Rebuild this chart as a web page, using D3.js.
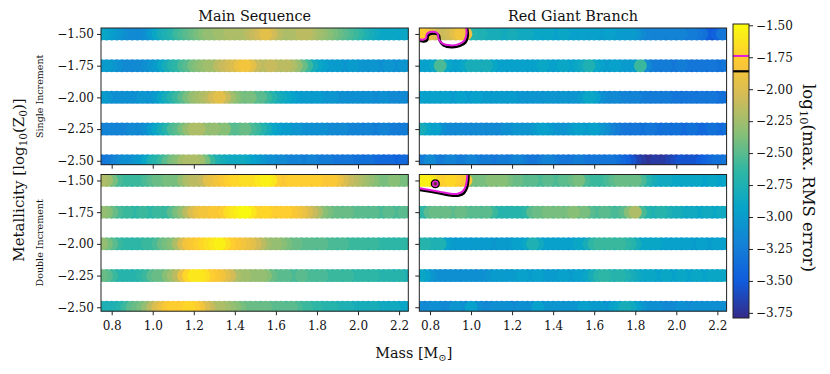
<!DOCTYPE html>
<html>
<head>
<meta charset="utf-8">
<script src="https://cdn.jsdelivr.net/npm/d3@7"></script>
<style>
  body { margin: 0; background: #fff; }
  text { font-family: "DejaVu Serif", serif; fill: #111; }
</style>
</head>
<body>
<svg id="chart" width="830" height="374"></svg>
<script>
// ---- data ----
var metals = [-1.5, -1.75, -2.0, -2.25, -2.5];
var massTicks = [0.8, 1.0, 1.2, 1.4, 1.6, 1.8, 2.0, 2.2];
var cbTicks = [-1.5, -1.75, -2.0, -2.25, -2.5, -2.75, -3.0, -3.25, -3.5, -3.75];
// mass grid 0.75 .. 2.25, step 0.025 (61 models per metallicity)
var masses = d3.range(61).map(i => 0.75 + 0.025 * i);

// log10(max RMS error), one row per metallicity (-1.5 .. -2.5)
var msSingle = [
  [-2.9,-2.95,-3.0,-3.05,-3.1,-3.15,-3.15,-3.15,-3.15,-3.1, -3.0,-2.9,-2.8,-2.75,-2.7,-2.6,-2.55,-2.5,-2.45,-2.4, -2.35,-2.3,-2.3,-2.25,-2.25,-2.2,-2.25,-2.2,-2.2,-2.15, -2.1,-2.05,-1.95,-2.05,-2.15,-2.2,-2.25,-2.2,-2.2,-2.15, -2.15,-2.2,-2.25,-2.3,-2.35,-2.4,-2.45,-2.5,-2.55,-2.6, -2.65,-2.75,-2.8,-2.85,-2.9,-2.9,-2.9,-2.9,-2.95,-2.9, -2.9],
  [-3.0,-3.0,-3.05,-3.1,-3.15,-3.15,-3.2,-3.15,-3.15,-3.1, -3.05,-3.0,-2.9,-2.8,-2.7,-2.65,-2.55,-2.5,-2.4,-2.35, -2.3,-2.25,-2.25,-2.15,-2.1,-2.05,-2.0,-1.9,-1.85,-1.95, -2.1,-2.15,-2.15,-2.1,-2.15,-2.2,-2.15,-2.2,-2.3,-2.45, -2.6,-2.8,-2.9,-2.95,-3.0,-3.0,-3.0,-3.05,-3.05,-3.0, -3.05,-3.05,-3.1,-3.05,-3.1,-3.1,-3.05,-3.1,-3.1,-3.05, -3.05],
  [-3.0,-3.05,-3.1,-3.1,-3.15,-3.1,-3.1,-3.1,-3.05,-3.1, -3.05,-3.0,-2.9,-2.8,-2.7,-2.6,-2.5,-2.4,-2.3,-2.25, -2.2,-2.15,-2.05,-1.95,-2.1,-2.25,-2.35,-2.4,-2.45,-2.4, -2.5,-2.5,-2.6,-2.7,-2.8,-2.85,-2.9,-2.95,-3.0,-3.0, -3.0,-3.05,-3.0,-3.05,-3.1,-3.05,-3.1,-3.1,-3.15,-3.1, -3.1,-3.15,-3.1,-3.15,-3.15,-3.1,-3.15,-3.15,-3.2,-3.15, -3.15],
  [-3.2,-3.2,-3.2,-3.25,-3.2,-3.2,-3.15,-3.2,-3.15,-3.1, -3.0,-2.9,-2.8,-2.7,-2.55,-2.5,-2.4,-2.3,-2.2,-2.2, -2.3,-2.35,-2.3,-2.4,-2.35,-2.5,-2.55,-2.5,-2.45,-2.55, -2.6,-2.7,-2.8,-2.9,-2.95,-3.0,-3.0,-3.05,-3.05,-3.1, -3.1,-3.1,-3.15,-3.1,-3.15,-3.15,-3.2,-3.15,-3.2,-3.2, -3.2,-3.25,-3.2,-3.25,-3.25,-3.2,-3.25,-3.25,-3.3,-3.25, -3.25],
  [-3.3,-3.3,-3.25,-3.2,-3.15,-3.1,-3.1,-3.05,-3.0,-2.9, -2.75,-2.7,-2.6,-2.5,-2.4,-2.35,-2.25,-2.2,-2.2,-2.25, -2.4,-2.6,-2.75,-2.8,-2.85,-2.85,-2.9,-2.85,-2.9,-2.95, -3.0,-3.05,-3.1,-3.1,-3.15,-3.15,-3.2,-3.2,-3.2,-3.25, -3.25,-3.2,-3.25,-3.3,-3.25,-3.3,-3.3,-3.35,-3.3,-3.35, -3.35,-3.4,-3.35,-3.4,-3.4,-3.45,-3.4,-3.45,-3.45,-3.4, -3.45]
];

var msDouble = [
  [-2.2,-2.25,-2.4,-2.55,-2.6,-2.6,-2.65,-2.6,-2.6,-2.55, -2.5,-2.45,-2.45,-2.4,-2.45,-2.4,-2.3,-2.2,-2.15,-2.2, -2.1,-1.95,-1.9,-1.85,-1.8,-1.75,-1.7,-1.7,-1.65,-1.7, -1.65,-1.6,-1.55,-1.6,-1.75,-1.8,-1.8,-1.75,-1.75,-1.8, -1.75,-1.8,-1.75,-1.8,-1.85,-1.8,-1.9,-2.0,-2.1,-2.15, -2.2,-2.25,-2.3,-2.35,-2.4,-2.4,-2.4,-2.35,-2.4,-2.4, -2.4],
  [-2.3,-2.35,-2.45,-2.55,-2.6,-2.6,-2.65,-2.65,-2.6,-2.65, -2.65,-2.6,-2.65,-2.6,-2.5,-2.4,-2.3,-2.15,-2.0,-1.9, -1.85,-1.85,-1.8,-1.85,-1.75,-1.65,-1.6,-1.55,-1.5,-1.6, -1.7,-1.75,-1.7,-1.75,-1.8,-1.75,-1.75,-1.8,-1.85,-1.9, -2.0,-2.1,-2.2,-2.35,-2.4,-2.45,-2.45,-2.5,-2.45,-2.5, -2.5,-2.5,-2.55,-2.5,-2.55,-2.55,-2.5,-2.55,-2.55,-2.5, -2.55],
  [-2.3,-2.4,-2.5,-2.6,-2.65,-2.65,-2.7,-2.65,-2.65,-2.6, -2.6,-2.55,-2.45,-2.4,-2.35,-2.2,-2.0,-1.85,-1.8,-1.75, -1.7,-1.65,-1.6,-1.55,-1.65,-1.75,-1.8,-1.85,-1.9,-1.95, -2.05,-2.15,-2.25,-2.3,-2.3,-2.35,-2.4,-2.45,-2.45,-2.5, -2.5,-2.5,-2.55,-2.5,-2.55,-2.55,-2.6,-2.55,-2.6,-2.6, -2.6,-2.6,-2.65,-2.6,-2.65,-2.65,-2.65,-2.7,-2.65,-2.65, -2.65],
  [-2.45,-2.5,-2.6,-2.7,-2.7,-2.7,-2.75,-2.7,-2.65,-2.6, -2.5,-2.45,-2.45,-2.35,-2.25,-2.15,-1.9,-1.7,-1.6,-1.6, -1.65,-1.75,-1.8,-1.85,-1.95,-2.05,-2.2,-2.25,-2.25,-2.3, -2.3,-2.3,-2.35,-2.45,-2.5,-2.5,-2.5,-2.55,-2.55,-2.5, -2.55,-2.55,-2.6,-2.55,-2.6,-2.6,-2.6,-2.65,-2.6,-2.65, -2.65,-2.65,-2.7,-2.65,-2.7,-2.7,-2.7,-2.75,-2.7,-2.75, -2.75],
  [-2.75,-2.8,-2.75,-2.75,-2.7,-2.6,-2.5,-2.45,-2.4,-2.3, -2.15,-2.0,-1.9,-1.8,-1.75,-1.8,-1.75,-1.7,-1.75,-1.85, -2.0,-2.1,-2.2,-2.2,-2.25,-2.3,-2.35,-2.4,-2.45,-2.45, -2.45,-2.5,-2.45,-2.5,-2.5,-2.5,-2.55,-2.5,-2.55,-2.6, -2.6,-2.65,-2.65,-2.7,-2.7,-2.7,-2.75,-2.75,-2.75,-2.8, -2.8,-2.8,-2.85,-2.8,-2.85,-2.85,-2.9,-2.85,-2.9,-2.9, -2.9]
];

var rgbSingle = [
  [-1.75,-1.8,-1.95,-2.05,-2.1,-2.1,-2.05,-1.95,-1.85,-1.9, -2.7,-2.75,-2.75,-2.8,-2.8,-2.8,-2.85,-2.85,-2.8,-2.85, -2.85,-2.85,-2.9,-2.9,-2.95,-2.9,-2.95,-2.95,-2.9,-2.95, -2.95,-3.0,-2.95,-3.0,-2.95,-3.0,-3.0,-2.95,-3.0,-3.0, -3.05,-3.0,-3.05,-3.15,-3.2,-3.2,-3.25,-3.2,-3.25,-3.2, -3.25,-3.2,-3.3,-3.25,-3.3,-3.35,-3.5,-3.55,-3.45,-3.3, -3.3],
  [-2.95,-2.95,-2.95,-2.9,-2.55,-2.9,-2.95,-3.0,-2.95,-2.9, -2.8,-2.8,-2.85,-2.8,-2.9,-2.95,-2.95,-3.0,-2.95,-2.95, -2.95,-3.0,-2.95,-2.95,-2.9,-2.95,-3.0,-2.95,-2.9,-2.95, -2.95,-2.9,-2.85,-2.75,-2.9,-2.95,-3.0,-3.0,-2.95,-3.0, -3.0,-3.05,-3.0,-2.6,-3.15,-3.25,-3.25,-3.3,-3.25,-3.3, -3.3,-3.25,-3.3,-3.35,-3.3,-3.3,-3.35,-3.3,-3.35,-3.35, -3.3],
  [-2.95,-2.95,-3.0,-2.95,-3.0,-2.95,-3.0,-3.0,-2.95,-3.0, -3.0,-2.95,-3.0,-3.0,-3.05,-3.0,-3.0,-3.05,-3.0,-3.05, -3.05,-3.1,-3.05,-3.05,-3.1,-3.05,-3.05,-3.1,-3.05,-3.1, -3.05,-3.1,-3.0,-2.9,-2.95,-3.1,-3.15,-3.2,-3.15,-3.2, -3.2,-3.25,-3.2,-3.25,-3.25,-3.3,-3.25,-3.3,-3.25,-3.3, -3.3,-3.35,-3.3,-3.3,-3.35,-3.3,-3.35,-3.3,-3.4,-3.35, -3.35],
  [-2.8,-2.9,-2.95,-2.95,-3.1,-3.15,-3.15,-3.2,-3.15,-3.15, -3.2,-3.15,-3.15,-3.2,-3.15,-3.2,-3.15,-3.1,-3.1,-3.05, -3.1,-3.05,-3.05,-3.0,-2.95,-3.0,-3.05,-3.05,-3.1,-3.05, -3.0,-2.95,-3.05,-3.0,-2.95,-3.05,-3.1,-3.2,-3.25,-3.3, -3.3,-3.35,-3.3,-3.35,-3.35,-3.3,-3.35,-3.4,-3.35,-3.4, -3.35,-3.4,-3.4,-3.35,-3.4,-3.4,-3.4,-3.35,-3.4,-3.4, -3.35],
  [-3.3,-3.25,-3.15,-3.25,-3.3,-3.25,-3.2,-3.25,-3.3,-3.25, -3.2,-3.25,-3.3,-3.25,-3.3,-3.3,-3.25,-3.3,-3.25,-3.2, -3.25,-3.3,-3.3,-3.35,-3.25,-3.2,-3.25,-3.3,-3.3,-3.35, -3.3,-3.25,-3.3,-3.35,-3.3,-3.3,-3.35,-3.3,-3.35,-3.4, -3.45,-3.55,-3.65,-3.7,-3.75,-3.75,-3.7,-3.75,-3.7,-3.65, -3.6,-3.55,-3.6,-3.55,-3.6,-3.5,-3.45,-3.4,-3.35,-3.35, -3.3]
];

var rgbDouble = [
  [-1.55,-1.55,-1.6,-1.7,-1.75,-1.75,-1.7,-1.75,-1.8,-1.8, -2.4,-2.45,-2.4,-2.45,-2.35,-2.4,-2.35,-2.4,-2.45,-2.45, -2.5,-2.55,-2.5,-2.55,-2.55,-2.5,-2.55,-2.55,-2.5,-2.55, -2.45,-2.4,-2.55,-2.6,-2.6,-2.65,-2.6,-2.55,-2.5,-2.45, -2.45,-2.5,-2.45,-2.55,-2.7,-2.8,-2.85,-2.9,-2.85,-2.9, -2.9,-2.95,-2.9,-2.95,-2.9,-2.95,-2.95,-2.9,-2.95,-2.95, -2.9],
  [-2.7,-2.65,-2.5,-2.45,-2.5,-2.45,-2.5,-2.5,-2.45,-2.5, -2.55,-2.5,-2.55,-2.5,-2.6,-2.7,-2.7,-2.75,-2.7,-2.7, -2.7,-2.65,-2.5,-2.45,-2.45,-2.4,-2.45,-2.4,-2.45,-2.4, -2.35,-2.45,-2.4,-2.5,-2.55,-2.55,-2.5,-2.55,-2.6,-2.55, -2.5,-2.35,-2.2,-2.55,-2.7,-2.75,-2.75,-2.7,-2.75,-2.8, -2.8,-2.85,-2.9,-2.85,-2.9,-2.9,-2.85,-2.9,-2.9,-2.85, -2.9],
  [-2.75,-2.7,-2.75,-2.8,-2.75,-2.95,-3.0,-3.05,-3.0,-3.0, -3.05,-3.0,-3.05,-3.0,-3.05,-3.05,-3.0,-3.05,-3.0,-2.95, -3.0,-2.9,-2.75,-2.85,-2.95,-2.95,-3.0,-2.95,-2.95,-3.0, -2.95,-2.9,-2.95,-2.8,-2.65,-2.6,-2.65,-2.6,-2.65,-2.6, -2.65,-2.7,-2.8,-2.9,-2.9,-2.95,-2.9,-2.95,-2.95,-3.0, -2.95,-3.0,-2.95,-3.0,-3.0,-2.95,-3.0,-3.0,-2.95,-3.0, -2.95],
  [-2.9,-2.95,-3.05,-3.1,-3.1,-3.15,-3.1,-3.1,-3.15,-3.1, -3.1,-3.15,-3.1,-3.1,-3.05,-3.0,-3.0,-3.05,-3.0,-3.0, -2.95,-3.0,-3.0,-2.95,-3.0,-3.05,-3.0,-3.0,-2.95,-3.0, -3.0,-2.95,-3.0,-2.9,-2.8,-2.7,-2.65,-2.7,-2.75,-2.7, -2.75,-2.8,-2.85,-2.9,-2.95,-2.9,-2.95,-2.95,-2.9,-2.95, -2.95,-2.9,-2.95,-2.95,-2.9,-2.95,-2.95,-2.9,-2.95,-2.9, -2.9],
  [-3.15,-3.2,-3.15,-3.1,-3.15,-3.2,-3.15,-3.05,-3.1,-3.15, -2.95,-3.1,-3.15,-3.2,-3.15,-3.1,-3.15,-3.1,-3.2,-3.15, -3.1,-3.15,-3.1,-2.95,-3.1,-3.05,-3.1,-3.05,-3.1,-3.05, -3.1,-3.05,-2.95,-3.0,-3.05,-3.0,-3.1,-3.05,-2.95,-2.9, -2.8,-2.85,-2.95,-3.05,-3.1,-3.15,-3.1,-3.15,-3.2,-3.15, -3.15,-3.1,-3.15,-3.15,-3.1,-3.15,-3.1,-3.1,-3.15,-3.1, -3.1]
];

// contour of the error threshold (mass, log10 Z0) in the RGB panels
var levelMagenta = -1.74;
var levelBlack = -1.86;
var contourRgbSingle = [[0.745,-1.54],[0.765,-1.545],[0.78,-1.535],[0.785,-1.50],[0.80,-1.485],[0.825,-1.485],[0.838,-1.50],[0.842,-1.54],[0.86,-1.575],[0.90,-1.59],[0.94,-1.58],[0.968,-1.55],[0.978,-1.50],[0.975,-1.44]];
var contourRgbDouble = [[0.745,-1.56],[0.80,-1.575],[0.85,-1.59],[0.90,-1.605],[0.935,-1.605],[0.96,-1.585],[0.975,-1.54],[0.98,-1.49],[0.982,-1.44]];
var ringRgbDouble = [0.826, -1.526];

// ---- setup ----
var svg = d3.select('#chart');
var cMin = -3.79, cMax = -1.49;
var parula = ['#352a87','#0f5cdd','#1481d6','#06a4ca','#2eb7a4','#87bf77','#d1bb59','#fec832','#f9fb0e'];
var color = d3.scaleLinear()
  .domain(parula.map((c, i) => cMin + i * (cMax - cMin) / (parula.length - 1)))
  .range(parula)
  .interpolate(d3.interpolateRgb);

var cols = [101, 419.3], colW = 307.3;
var rows = [28, 174.5], rowH = 136.7;
var xDomain = [0.748, 2.245], yDomain = [-1.453, -2.531];
var fmt1 = d3.format('.1f'), fmt2 = d3.format('.2f');

var panels = [
  {data: msSingle, c: 0, r: 0},
  {data: rgbSingle, c: 1, r: 0, contour: contourRgbSingle},
  {data: msDouble, c: 0, r: 1},
  {data: rgbDouble, c: 1, r: 1, contour: contourRgbDouble, ring: ringRgbDouble}
];

panels.forEach(function(p, k) {
  var x0 = cols[p.c], y0 = rows[p.r];
  var x = d3.scaleLinear().domain(xDomain).range([x0, x0 + colW]);
  var y = d3.scaleLinear().domain(yDomain).range([y0, y0 + rowH]);

  svg.append('clipPath').attr('id', 'clip' + k)
    .append('rect').attr('x', x0).attr('y', y0).attr('width', colW).attr('height', rowH);

  var pts = [];
  p.data.forEach(function(row, b) {
    row.forEach(function(v, j) { pts.push({m: masses[j], z: metals[b], v: v}); });
  });
  pts.sort((a, b) => a.v - b.v);

  var g = svg.append('g').attr('clip-path', 'url(#clip' + k + ')');
  g.selectAll('circle').data(pts).enter().append('circle')
    .attr('cx', d => x(d.m))
    .attr('cy', d => y(d.z))
    .attr('r', 6.5)
    .style('fill', d => color(d.v));

  var line = d3.line().x(d => x(d[0])).y(d => y(d[1])).curve(d3.curveCatmullRom);
  if (p.contour) {
    g.append('path').attr('d', line(p.contour))
      .attr('transform', 'translate(1.2,1.8)')
      .style('fill', 'none').style('stroke', '#000').style('stroke-width', 2.6);
    g.append('path').attr('d', line(p.contour))
      .style('fill', 'none').style('stroke', '#e01ad8').style('stroke-width', 2);
  }
  if (p.ring) {
    g.append('circle').attr('cx', x(p.ring[0])).attr('cy', y(p.ring[1])).attr('r', 3.8)
      .style('fill', 'none').style('stroke', '#000').style('stroke-width', 1.6);
    g.append('circle').attr('cx', x(p.ring[0])).attr('cy', y(p.ring[1])).attr('r', 2.4)
      .style('fill', '#5a3a2a').style('stroke', '#e01ad8').style('stroke-width', 1.5);
  }

  // axes
  var xAxis = d3.axisBottom(x).tickValues(massTicks).tickSize(4).tickPadding(6.5).tickSizeOuter(0)
    .tickFormat(p.r === 1 ? fmt1 : '');
  var yAxis = d3.axisLeft(y).tickValues(metals).tickSize(4).tickPadding(3).tickSizeOuter(0)
    .tickFormat(p.c === 0 ? fmt2 : '');
  var ax = svg.append('g').attr('transform', 'translate(0,' + (y0 + rowH) + ')').call(xAxis);
  var ay = svg.append('g').attr('transform', 'translate(' + x0 + ',0)').call(yAxis);
  [ax, ay].forEach(function(a) {
    a.select('.domain').remove();
    a.selectAll('line').style('stroke', '#222');
    a.selectAll('text').style('font-size', '12px').style('font-family', '"DejaVu Serif", serif').style('fill', '#111');
  });

  svg.append('rect').attr('x', x0).attr('y', y0).attr('width', colW).attr('height', rowH)
    .style('fill', 'none').style('stroke', '#222').style('stroke-width', 1);
});

// titles
svg.append('text').attr('x', cols[0] + colW / 2).attr('y', 21).attr('text-anchor', 'middle')
  .style('font-size', '14.4px').text('Main Sequence');
svg.append('text').attr('x', cols[1] + colW / 2).attr('y', 21).attr('text-anchor', 'middle')
  .style('font-size', '14.4px').text('Red Giant Branch');

// row labels
svg.append('text').attr('transform', 'translate(43,' + (rows[0] + rowH / 2) + ') rotate(-90)')
  .attr('text-anchor', 'middle').style('font-size', '9.5px').text('Single Increment');
svg.append('text').attr('transform', 'translate(43,' + (rows[1] + rowH / 2) + ') rotate(-90)')
  .attr('text-anchor', 'middle').style('font-size', '9.5px').text('Double Increment');

// x label
var xl = svg.append('text').attr('x', (cols[0] + cols[1] + colW) / 2).attr('y', 357.5)
  .attr('text-anchor', 'middle').style('font-size', '14.4px');
xl.append('tspan').text('Mass [M');
xl.append('tspan').attr('dy', 3).style('font-size', '10px').text('\u2299');
xl.append('tspan').attr('dy', -3).text(']');

// y label
var yl = svg.append('text').attr('transform', 'translate(24,180) rotate(-90)')
  .attr('text-anchor', 'middle').style('font-size', '15px');
yl.append('tspan').text('Metallicity [log');
yl.append('tspan').attr('dy', 3).style('font-size', '10.5px').text('10');
yl.append('tspan').attr('dy', -3).text('(Z');
yl.append('tspan').attr('dy', 3).style('font-size', '10.5px').text('0');
yl.append('tspan').attr('dy', -3).text(')]');

// ---- colorbar ----
var cbX = 733, cbW = 16, cbTop = 24, cbBot = 318;
var cb = d3.scaleLinear().domain([cMax, cMin]).range([cbTop, cbBot]);
var grad = svg.append('defs').append('linearGradient').attr('id', 'cbgrad')
  .attr('x1', 0).attr('y1', 1).attr('x2', 0).attr('y2', 0);
d3.range(0, 1.0001, 0.02).forEach(function(t) {
  grad.append('stop').attr('offset', t).attr('stop-color', color(cMin + t * (cMax - cMin)));
});
svg.append('rect').attr('x', cbX).attr('y', cbTop).attr('width', cbW).attr('height', cbBot - cbTop)
  .style('fill', 'url(#cbgrad)');
svg.append('line').attr('x1', cbX).attr('x2', cbX + cbW).attr('y1', cb(levelMagenta)).attr('y2', cb(levelMagenta))
  .style('stroke', '#e01ad8').style('stroke-width', 2);
svg.append('line').attr('x1', cbX).attr('x2', cbX + cbW).attr('y1', cb(levelBlack)).attr('y2', cb(levelBlack))
  .style('stroke', '#000').style('stroke-width', 2.2);
svg.append('rect').attr('x', cbX).attr('y', cbTop).attr('width', cbW).attr('height', cbBot - cbTop)
  .style('fill', 'none').style('stroke', '#222').style('stroke-width', 1);

var cbAxis = d3.axisRight(cb).tickValues(cbTicks).tickSize(4).tickPadding(3).tickSizeOuter(0).tickFormat(fmt2);
var cba = svg.append('g').attr('transform', 'translate(' + (cbX + cbW) + ',0)').call(cbAxis);
cba.select('.domain').remove();
cba.selectAll('line').style('stroke', '#222');
cba.selectAll('text').style('font-size', '12px').style('font-family', '"DejaVu Serif", serif').style('fill', '#111');

var cl = svg.append('text').attr('transform', 'translate(803,178) rotate(90)')
  .attr('text-anchor', 'middle').style('font-size', '16.5px');
cl.append('tspan').text('log');
cl.append('tspan').attr('dy', 3).style('font-size', '11.5px').text('10');
cl.append('tspan').attr('dy', -3).text('(max. RMS error)');
</script>
</body>
</html>
